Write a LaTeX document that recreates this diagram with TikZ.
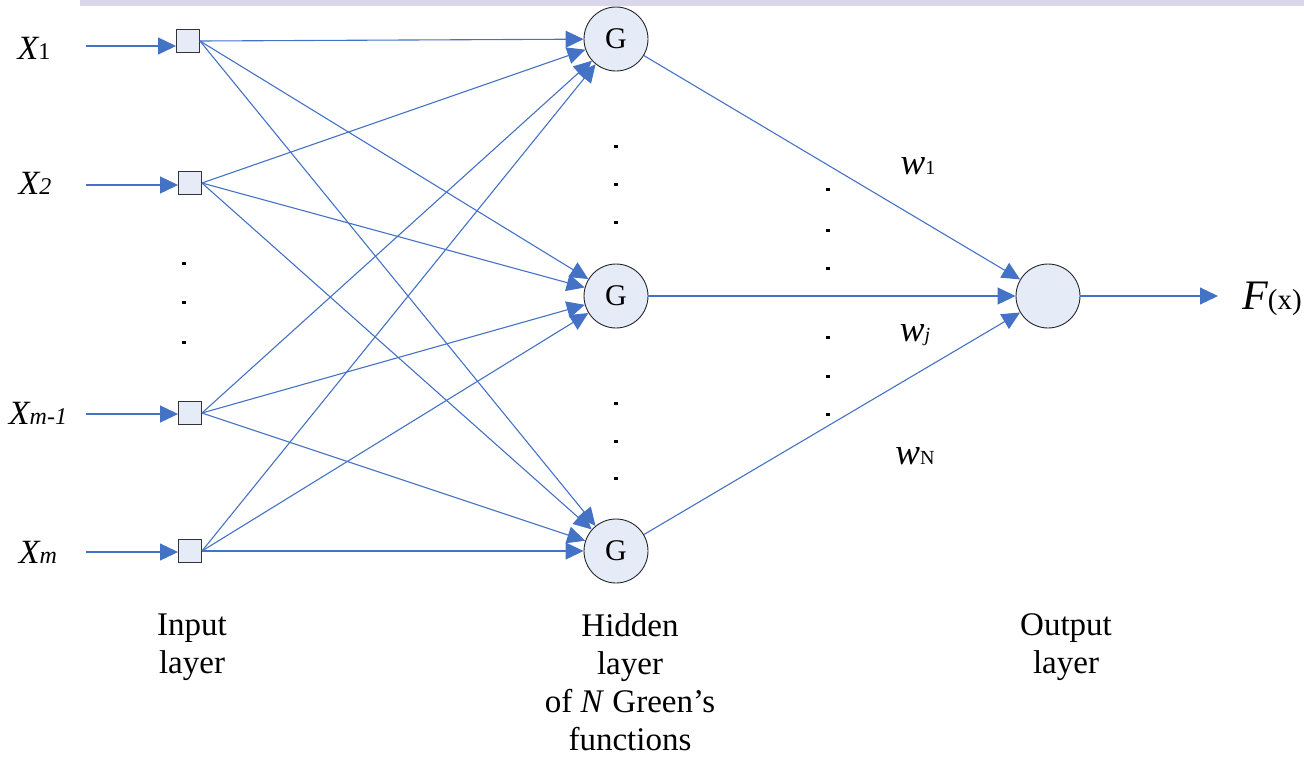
\documentclass[tikz,border=0pt]{standalone}
\usepackage{fontspec}
\setmainfont{Liberation Serif}
\usetikzlibrary{arrows.meta}
\definecolor{linkblue}{RGB}{68,114,196}
\definecolor{cellfill}{RGB}{230,236,247}
\definecolor{topband}{RGB}{216,216,234}
\tikzset{
  link/.style={draw=linkblue, line width=1.1pt},
  arr/.style={link, -{Triangle[length=18pt,width=17pt]}},
  inbox/.style={draw=black!80, fill=cellfill, line width=0.9pt, minimum size=23pt, inner sep=0pt},
  gnode/.style={circle, draw=black!85, fill=cellfill, line width=0.9pt, minimum size=64pt, inner sep=0pt, font=\fontsize{30}{30}\selectfont},
  dotmark/.style={fill=black, inner sep=0pt, minimum width=4pt, minimum height=3pt},
  caption/.style={align=center, font=\fontsize{33}{38}\selectfont},
  inlabel/.style={anchor=base, inner sep=0pt}
}
\newcommand{\bigX}{\fontsize{34}{34}\selectfont\itshape X}
\newcommand{\subsz}{\fontsize{24}{24}\selectfont}
\newcommand{\bigw}{\fontsize{37}{37}\selectfont\itshape w}
\begin{document}
\begin{tikzpicture}[x=1pt, y=-1pt]
\useasboundingbox (0,0) rectangle (1304,756);
% band along the top edge
\fill[topband] (80,0) rectangle (1304,6);

% input cells
\node[inbox] (i1) at (188,41) {};
\node[inbox] (i2) at (190,183) {};
\node[inbox] (i3) at (190,413) {};
\node[inbox] (i4) at (190,551) {};

% input leads
\coordinate (s1) at (86,46);
\coordinate (s2) at (86,185);
\coordinate (s3) at (86,414);
\coordinate (s4) at (86,552);
\draw[arr] (s1) -- (i1.west |- s1);
\draw[arr] (s2) -- (i2.west |- s2);
\draw[arr] (s3) -- (i3.west |- s3);
\draw[arr] (s4) -- (i4.west |- s4);

% input labels
\node[inlabel] (x1) at (34,59) {\bigX\subsz\upshape 1};
\node[inlabel] (x2) at (35,194) {\bigX\subsz 2};
\node[inlabel] (x3) at (38,424) {\bigX\subsz m-1};
\node[inlabel] (x4) at (38,563) {\bigX\subsz m};

% hidden Green's function units
\node[gnode] (g1) at (616,39) {G};
\node[gnode] (g2) at (616,296) {G};
\node[gnode] (g3) at (616,551) {G};

% output unit
\node[gnode] (o) at (1048,296) {};
\coordinate (f) at (1218,296);

% full connections input -> hidden
\foreach \i in {1,2,3,4}
  \foreach \g in {1,2,3}
    \draw[arr] (i\i.east) -- (g\g);

% hidden -> output
\foreach \g in {1,2,3}
  \draw[arr] (g\g) -- (o);
\draw[arr] (o) -- (f);

\node[inlabel] (fx) at (1272,309) {\fontsize{42}{42}\selectfont\itshape F\fontsize{29}{29}\selectfont\upshape(x)};

% weight labels
\node[inlabel] (w1) at (918,174) {\bigw\fontsize{20}{20}\selectfont\upshape 1};
\node[inlabel] (wj) at (915,341) {\bigw\fontsize{20}{20}\selectfont j};
\node[inlabel] (wn) at (915,464) {\bigw\fontsize{20}{20}\selectfont\upshape N};

% ellipsis dots
\foreach \y [count=\k] in {263,302,342}
  \node[dotmark] (dl\k) at (184,\y) {};
\foreach \y [count=\k] in {146,184,222,403,441,478}
  \node[dotmark] (dh\k) at (616,\y) {};
\foreach \y [count=\k] in {189,230,268,337,376,414}
  \node[dotmark] (dr\k) at (828,\y) {};

% layer captions
\node[caption, anchor=north] (cin) at (192,610) {Input\\layer};
\node[caption, anchor=north] (chid) at (630,610) {Hidden\\layer\\of \textit{N} Green’s\\functions};
\node[caption, anchor=north] (cout) at (1066,610) {Output\\layer};
\end{tikzpicture}
\end{document}
